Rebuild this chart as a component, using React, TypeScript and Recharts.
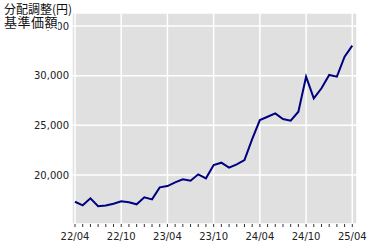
import React from 'react';
import { LineChart, Line, XAxis, YAxis, CartesianGrid } from 'recharts';

// monthly points, 22/04 .. 25/04
const months = [
  '22/04', '22/05', '22/06', '22/07', '22/08', '22/09', '22/10', '22/11', '22/12',
  '23/01', '23/02', '23/03', '23/04', '23/05', '23/06', '23/07', '23/08', '23/09',
  '23/10', '23/11', '23/12', '24/01', '24/02', '24/03', '24/04', '24/05', '24/06',
  '24/07', '24/08', '24/09', '24/10', '24/11', '24/12', '25/01', '25/02', '25/03',
  '25/04',
];

const navValues = [
  17310, 16950, 17650, 16850, 16930, 17110, 17350, 17250, 17050,
  17750, 17550, 18760, 18890, 19260, 19570, 19430, 20070, 19670,
  21010, 21240, 20740, 21080, 21510, 23620, 25530, 25870, 26210,
  25640, 25470, 26370, 29900, 27720, 28730, 30070, 29900, 31910,
  33020,
];

const tickLabels = ['22/04', '22/10', '23/04', '23/10', '24/04', '24/10', '25/04'];
const yTicks = [20000, 25000, 30000, 35000];
const titleLines = ['分配調整(円)', '基準価額'];

const data = months.map((m, i) => ({ i, month: m, nav: navValues[i] }));
const monthTicks = months.map((_, i) => i);
const gridTicks = tickLabels.map((l) => months.indexOf(l));

const tickStyle = { fontSize: 10, fontFamily: 'DejaVu Sans', fill: '#222' };

const lineBox: React.CSSProperties = {
  width: 'fit-content',
  background: '#fff',
  lineHeight: '13px',
  height: 13,
};

export default function App() {
  return (
    <div style={{ position: 'absolute', left: 0, top: 0, width: 380, height: 250, background: '#fff' }}>
      <LineChart
        width={380}
        height={250}
        data={data}
        margin={{ top: 13, right: 23, bottom: 0, left: 0 }}
      >
        <CartesianGrid
          xAxisId="grid"
          fill="#e0e0e0"
          stroke="#ffffff"
          strokeWidth={1.5}
          strokeDasharray=""
        />
        <XAxis
          xAxisId="m"
          dataKey="i"
          type="number"
          domain={[-0.39, 36.61]}
          ticks={monthTicks}
          interval={0}
          allowDataOverflow
          axisLine={false}
          tickSize={3}
          tickMargin={6}
          tickLine={{ stroke: '#333' }}
          tick={tickStyle}
          tickFormatter={(v: number) => (tickLabels.includes(months[v]) ? months[v] : '')}
          height={26}
        />
        <XAxis
          xAxisId="grid"
          dataKey="i"
          type="number"
          domain={[-0.39, 36.61]}
          ticks={gridTicks}
          allowDataOverflow
          height={0}
          hide
        />
        <YAxis
          type="number"
          domain={[15070, 36310]}
          ticks={yTicks}
          allowDataOverflow
          axisLine={false}
          tickLine={false}
          tickSize={0}
          tickMargin={3}
          width={72}
          tick={tickStyle}
          tickFormatter={(v: number) => v.toLocaleString('en-US')}
        />
        <Line
          xAxisId="m"
          type="linear"
          dataKey="nav"
          stroke="#000080"
          strokeWidth={2}
          dot={false}
          isAnimationActive={false}
        />
      </LineChart>
      <div
        style={{
          position: 'absolute',
          left: 4,
          top: 2,
          fontFamily: '"Noto Sans CJK JP"',
          color: '#111',
        }}
      >
        <div style={{ ...lineBox, fontSize: 12 }}>{titleLines[0]}</div>
        <div style={{ ...lineBox, fontSize: 13, letterSpacing: 0.5, paddingBottom: 2 }}>{titleLines[1]}</div>
      </div>
    </div>
  );
}
